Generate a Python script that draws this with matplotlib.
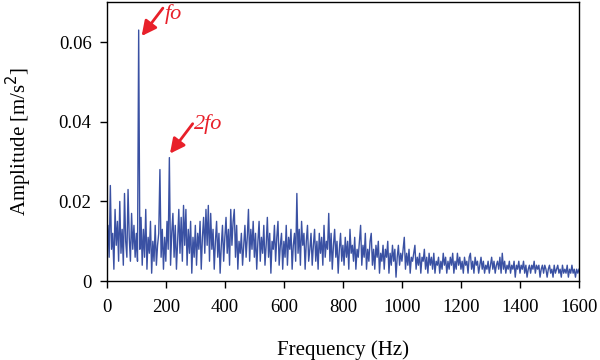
import numpy as np
import matplotlib.pyplot as plt

plt.rcParams['font.family'] = ['Liberation Serif', 'DejaVu Serif']

# spectrum amplitude in units of 1e-3 m/s^2, one value per 4 Hz
freq_step = 4  # Hz
amp_milli = [
    10, 14, 6, 24, 8, 12, 3, 18, 9, 15, 5, 20, 7, 13, 4, 22, 10, 6, 23, 11, 5, 17, 8, 14, 6,
    12, 5, 63, 8, 16, 4, 13, 6, 18, 3, 11, 7, 15, 2, 10, 5, 14, 4, 9, 12, 28, 6, 13, 3, 11,
    5, 15, 8, 31, 4, 12, 17, 6, 14, 3, 10, 18, 7, 16, 5, 19, 9, 18, 4, 13, 7, 15, 2, 11, 6,
    14, 4, 12, 8, 15, 3, 11, 16, 7, 18, 9, 19, 5, 17, 8, 13, 3, 10, 15, 6, 12, 2, 9, 14, 5,
    11, 16, 7, 13, 4, 18, 9, 15, 18, 6, 14, 3, 10, 7, 12, 4, 9, 14, 6, 11, 18, 5, 13, 8, 15,
    6, 12, 3, 10, 15, 5, 11, 7, 14, 4, 9, 16, 6, 12, 2, 10, 8, 14, 5, 11, 15, 4, 9, 12, 3,
    10, 6, 14, 4, 11, 8, 13, 3, 9, 12, 5, 22, 7, 13, 4, 15, 9, 12, 3, 10, 14, 5, 8, 12, 4,
    9, 13, 5, 10, 3, 12, 7, 11, 4, 14, 6, 10, 8, 17, 5, 12, 3, 9, 13, 6, 10, 2, 8, 12, 5,
    9, 4, 11, 6, 10, 3, 13, 7, 9, 5, 11, 3, 8, 6, 10, 14, 4, 9, 6, 12, 3, 8, 5, 10, 12,
    4, 8, 3, 9, 6, 10, 2, 7, 5, 9, 3, 8, 6, 10, 2, 7, 4, 9, 5, 8, 1, 6, 9, 4, 7,
    5, 8, 11, 3, 7, 4, 8, 2, 6, 5, 7, 9, 3, 6, 4, 7, 2, 6, 5, 8, 3, 6, 2, 7, 4,
    6, 3, 7, 2, 5, 4, 6, 2, 5, 3, 7, 4, 6, 2, 5, 3, 6, 4, 7, 2, 5, 3, 7, 4, 6,
    3, 5, 2, 6, 4, 5, 2, 6, 7, 3, 5, 2, 6, 4, 5, 2, 4, 6, 3, 5, 2, 4, 3, 5, 2,
    4, 6, 3, 5, 2, 4, 5, 3, 6, 2, 7, 3, 5, 2, 4, 3, 5, 2, 4, 3, 5, 1, 4, 3, 5,
    2, 4, 3, 5, 2, 4, 1, 3, 4, 2, 4, 3, 5, 2, 4, 3, 4, 1, 3, 4, 2, 4, 3, 1, 3,
    4, 2, 3, 1, 4, 2, 3, 4, 2, 3, 1, 4, 2, 3, 2, 4, 1, 3, 2, 4, 2, 3, 1, 3, 2,
    3,
]
amp = np.array(amp_milli) / 1000.0
freq = np.arange(len(amp)) * freq_step

fig = plt.figure(figsize=(6, 3.6), dpi=100)
ax = fig.add_axes([0.178, 0.219, 0.787, 0.775])

ax.plot(freq, amp, color='#3a51a3', lw=1.0)

ax.set_xlim(0, 1600)
ax.set_ylim(0, 0.07)
ax.set_xticks(np.arange(0, 1601, 200))
ax.set_yticks([0, 0.02, 0.04, 0.06])
ax.set_yticklabels(['0', '0.02', '0.04', '0.06'])
ax.tick_params(direction='out', length=5, width=1, labelsize=13.5, pad=6)
ax.tick_params(axis='x', pad=8)
for s in ax.spines.values():
    s.set_linewidth(1)

ax.set_xlabel('Frequency (Hz)', fontsize=15, labelpad=17)
ax.set_ylabel('Amplitude [m/s$^2$]', fontsize=15, labelpad=18)

red = '#e8202a'
arrow = dict(arrowstyle='-|>', color=red, lw=2, mutation_scale=22, shrinkA=0, shrinkB=0)
ax.annotate('', xy=(118, 0.0615), xytext=(190, 0.0685), arrowprops=arrow)
ax.text(197, 0.067, 'fo', color=red, style='italic', fontsize=16, va='center', ha='left')
ax.annotate('', xy=(214, 0.032), xytext=(291, 0.0395), arrowprops=arrow)
ax.text(295, 0.0395, '2fo', color=red, style='italic', fontsize=16, va='center', ha='left')

fig.savefig('out.png', dpi=100)
